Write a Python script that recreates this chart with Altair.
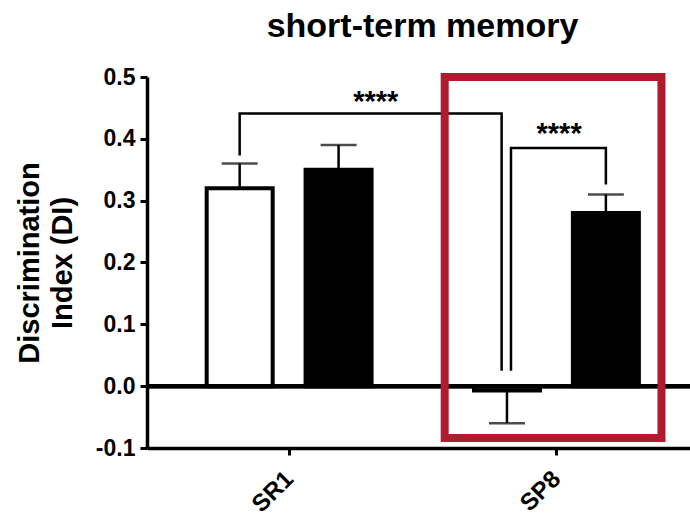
import json
import altair as alt
import pandas as pd

# ---------------- data ----------------
groups = ["SR1", "SP8"]
conditions = ["Control", "Treated"]          # white bar, black bar
bar_group = ["SR1", "SR1", "SP8", "SP8"]
bar_cond = ["Control", "Treated", "Control", "Treated"]
means = [0.32, 0.35, -0.007, 0.28]
err_tips = [0.36, 0.39, -0.06, 0.31]

# significance brackets (x in group units, y in DI units)
br_id = ["b1", "b1", "b1", "b1", "b2", "b2", "b2", "b2"]
br_order = [0, 1, 2, 3, 0, 1, 2, 3]
br_x = [-0.185, -0.185, 0.795, 0.795, 0.830, 0.830, 1.185, 1.185]
br_y = [0.375, 0.441, 0.441, 0.027, 0.027, 0.385, 0.385, 0.328]
star_text = ["****", "****"]
star_x = [0.324, 1.010]
star_y = [0.470, 0.418]

# highlighted region (red box)
box_x = [0.582]
box_x2 = [1.393]
box_y = [-0.084]
box_y2 = [0.500]

y_ticks = [-0.1, 0.0, 0.1, 0.2, 0.3, 0.4, 0.5]

# ---------------- tables ----------------
cond_offset = {"Control": -0.185, "Treated": 0.185}
bars = pd.DataFrame({
    "group": bar_group, "cond": bar_cond, "mean": means, "tip": err_tips,
})
bars["pos"] = [groups.index(g) + cond_offset[c] for g, c in zip(bar_group, bar_cond)]

brackets = pd.DataFrame({"id": br_id, "o": br_order, "x": br_x, "y": br_y})
stars = pd.DataFrame({"t": star_text, "x": star_x, "y": star_y})
box = pd.DataFrame({"x": box_x, "x2": box_x2, "y": box_y, "y2": box_y2})

FONT = "Liberation Sans"
RED = "#AE1C2E"

xscale = alt.Scale(domain=[-0.513, 1.481], nice=False, zero=False)
yscale = alt.Scale(domain=[-0.1, 0.5], nice=False, zero=False)

x_label_expr = json.dumps(groups) + "[round(datum.value)]"
y_label_expr = "replace(format(datum.value, '.1f'), '\u2212', '-')"

xaxis = alt.Axis(values=[0, 1], labelExpr=x_label_expr, labelAngle=315,
                 labelAlign="right", labelBaseline="middle", labelPadding=20,
                 labelFont=FONT, labelFontSize=24, labelFontWeight="bold",
                 labelColor="black", domainColor="black", domainWidth=3.5,
                 tickColor="black", tickWidth=3, tickSize=7, grid=False,
                 title="")
yaxis = alt.Axis(values=y_ticks, labelExpr=y_label_expr, labelFont=FONT,
                 labelFontSize=23, labelFontWeight="bold", labelColor="black",
                 labelPadding=5, domainColor="black", domainWidth=3.5,
                 tickColor="black", tickWidth=3, tickSize=7, grid=False,
                 title=["Discrimination", "Index (DI)"], titleFont=FONT,
                 titleFontSize=29, titleFontWeight="bold", titleColor="black",
                 titleLineHeight=33, titlePadding=18)

base = alt.Chart(bars)

bar_layer = base.mark_bar(size=66, stroke="black", strokeWidth=4).encode(
    x=alt.X("pos:Q", scale=xscale, axis=xaxis),
    y=alt.Y("mean:Q", scale=yscale, axis=yaxis),
    color=alt.Color("cond:N", scale=alt.Scale(domain=conditions, range=["white", "black"]),
                    legend=None),
)

whisker = base.mark_rule(color="black", strokeWidth=2.5).encode(
    x="pos:Q", y="mean:Q", y2="tip:Q")

cap = base.mark_tick(orient="horizontal", size=36, thickness=2.5, color="black").encode(
    x="pos:Q", y="tip:Q")

zero_line = alt.Chart(bars).mark_rule(color="black", strokeWidth=4).encode(
    y=alt.datum(0))

bracket_layer = alt.Chart(brackets).mark_line(color="black", strokeWidth=2.5,
                                               strokeCap="square").encode(
    x="x:Q", y="y:Q", detail="id:N", order="o:Q")

star_layer = alt.Chart(stars).mark_text(font=FONT, fontSize=29, fontWeight="bold",
                                        color="black", baseline="middle", dy=6).encode(
    x="x:Q", y="y:Q", text="t:N")

box_layer = alt.Chart(box).mark_rect(filled=False, stroke=RED, strokeWidth=8).encode(
    x="x:Q", x2="x2:Q", y="y:Q", y2="y2:Q")

chart = alt.layer(bar_layer, whisker, cap, zero_line, bracket_layer, star_layer,
                  box_layer).properties(
    width=543, height=371,
    title=alt.TitleParams("short-term memory", font=FONT, fontSize=34,
                          fontWeight="bold", color="black", anchor="middle",
                          frame="group", offset=22, dx=4),
    autosize=alt.AutoSizeParams(type="none"),
    padding={"left": 147, "top": 77, "right": 0, "bottom": 68},
    background="white",
).configure_view(stroke=None)

chart.save("out.html", embed_options={"renderer": "svg", "actions": False})
